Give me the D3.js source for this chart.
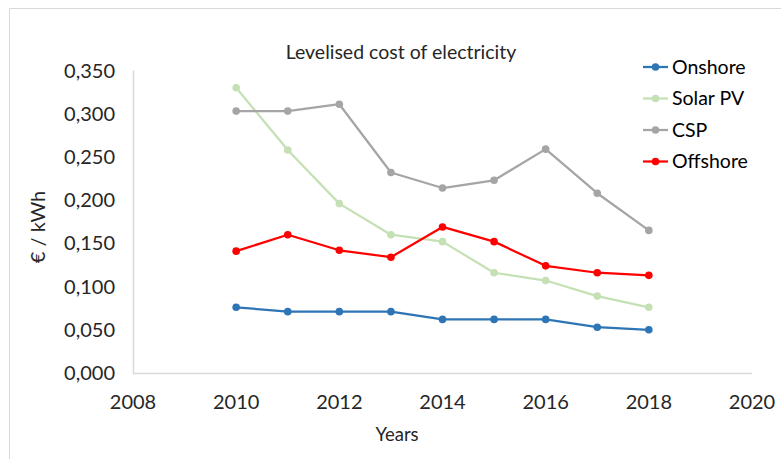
<!DOCTYPE html>
<html>
<head>
<meta charset="utf-8">
<script src="https://cdn.jsdelivr.net/npm/d3@7"></script>
<style>
  body { margin: 0; background: #fff; }
  svg { display: block; font-family: Lato, "Open Sans", sans-serif; }
</style>
</head>
<body>
<svg width="781" height="459"></svg>
<script>
const years = [2010, 2011, 2012, 2013, 2014, 2015, 2016, 2017, 2018];
const onshore = [0.076, 0.071, 0.071, 0.071, 0.062, 0.062, 0.062, 0.053, 0.050];
const solarPV = [0.330, 0.258, 0.196, 0.160, 0.152, 0.116, 0.107, 0.089, 0.076];
const csp = [0.303, 0.303, 0.311, 0.232, 0.214, 0.223, 0.259, 0.208, 0.165];
const offshore = [0.141, 0.160, 0.142, 0.134, 0.169, 0.152, 0.124, 0.116, 0.113];
const xTicks = [2008, 2010, 2012, 2014, 2016, 2018, 2020];
const yTicks = [0, 0.05, 0.1, 0.15, 0.2, 0.25, 0.3, 0.35];

const series = [
  { name: "Onshore", values: onshore, color: "#2e75b6" },
  { name: "Solar PV", values: solarPV, color: "#c5e0b4" },
  { name: "CSP", values: csp, color: "#a5a5a5" },
  { name: "Offshore", values: offshore, color: "#ff0000" }
];

const svg = d3.select("svg");

// chart frame
svg.append("path")
  .attr("d", "M9.5,459 L9.5,8.5 L781,8.5")
  .attr("fill", "none")
  .attr("stroke", "#d9d9d9")
  .attr("stroke-width", 1);

const x = d3.scaleLinear().domain([2008, 2020]).range([133, 752]);
const y = d3.scaleLinear().domain([0, 0.35]).range([373, 70.5]);

// axis lines
svg.append("line")
  .attr("x1", x(2008)).attr("x2", x(2020))
  .attr("y1", y(0) + 0.5).attr("y2", y(0) + 0.5)
  .attr("stroke", "#d9d9d9").attr("stroke-width", 1.5);
svg.append("line")
  .attr("x1", x(2008) + 0.5).attr("x2", x(2008) + 0.5)
  .attr("y1", y(0.35)).attr("y2", y(0))
  .attr("stroke", "#d9d9d9").attr("stroke-width", 1.5);

const fmt = d => d3.format(".3f")(d).replace(".", ",");

// tick labels
svg.selectAll(".ytick")
  .data(yTicks)
  .enter()
  .append("text")
  .attr("class", "ytick")
  .attr("x", 115)
  .attr("y", d => y(d))
  .attr("dy", "0.35em")
  .attr("text-anchor", "end")
  .attr("font-size", "20px")
  .attr("fill", "#262626")
  .text(fmt);

svg.selectAll(".xtick")
  .data(xTicks)
  .enter()
  .append("text")
  .attr("class", "xtick")
  .attr("x", d => x(d))
  .attr("y", 402)
  .attr("dy", "0.35em")
  .attr("text-anchor", "middle")
  .attr("font-size", "20px")
  .attr("fill", "#262626")
  .text(d => d);

// titles
svg.append("text")
  .attr("x", 401).attr("y", 52).attr("dy", "0.35em")
  .attr("text-anchor", "middle")
  .attr("font-size", "19.5px")
  .attr("fill", "#262626")
  .text("Levelised cost of electricity");

svg.append("text")
  .attr("x", 397).attr("y", 435).attr("dy", "0.35em")
  .attr("text-anchor", "middle")
  .attr("font-size", "18.5px")
  .attr("fill", "#262626")
  .text("Years");

svg.append("text")
  .attr("transform", "translate(38,227) rotate(-90)")
  .attr("dy", "0.35em")
  .attr("text-anchor", "middle")
  .attr("font-size", "20px")
  .attr("fill", "#262626")
  .text("€ / kWh");

// lines and markers
const line = d3.line()
  .x((d, i) => x(years[i]))
  .y(d => y(d));

series.forEach(s => {
  svg.append("path")
    .datum(s.values)
    .attr("d", line)
    .attr("fill", "none")
    .attr("stroke", s.color)
    .attr("stroke-width", 2.25)
    .attr("stroke-linejoin", "round");

  svg.selectAll(null)
    .data(s.values)
    .enter()
    .append("circle")
    .attr("cx", (d, i) => x(years[i]))
    .attr("cy", d => y(d))
    .attr("r", 3.8)
    .attr("fill", s.color);
});

// legend
const legend = svg.selectAll(".legend")
  .data(series)
  .enter()
  .append("g")
  .attr("class", "legend")
  .attr("transform", (d, i) => `translate(643,${67 + i * 31.5})`);

legend.append("line")
  .attr("x1", 0).attr("x2", 25)
  .attr("stroke", d => d.color)
  .attr("stroke-width", 2.25);
legend.append("circle")
  .attr("cx", 12.5).attr("r", 3.8)
  .attr("fill", d => d.color);
legend.append("text")
  .attr("x", 29)
  .attr("dy", "0.35em")
  .attr("font-size", "19.5px")
  .attr("fill", "#000")
  .text(d => d.name);
</script>
</body>
</html>
